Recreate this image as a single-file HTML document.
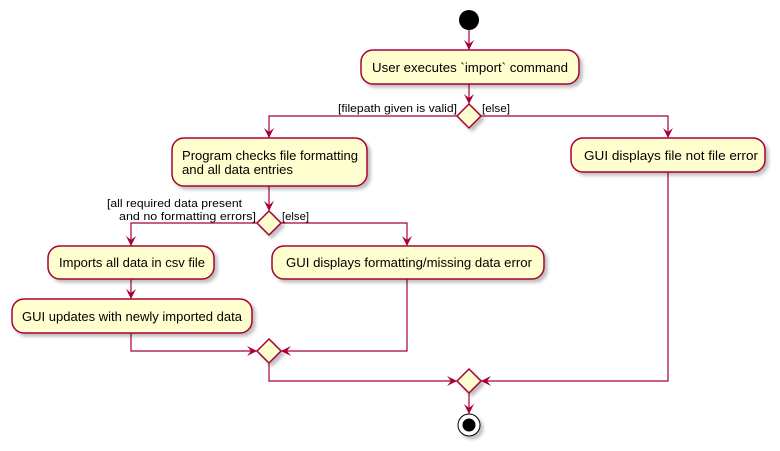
<!DOCTYPE html>
<html><head><meta charset="utf-8"><style>
html,body{margin:0;padding:0;background:#fff}
svg{display:block}
text{font-family:"Liberation Sans",sans-serif;font-size:12.5px;fill:#000}
.l{font-size:11px}
</style></head><body>
<svg width="780" height="451" viewBox="0 0 780 451">
<defs>
<filter id="sh" x="-10%" y="-10%" width="130%" height="150%"><feDropShadow dx="3" dy="3" stdDeviation="1.5" flood-color="#000" flood-opacity="0.25"/></filter>
<marker id="a" viewBox="0 0 10 10" refX="10" refY="5" markerWidth="10" markerHeight="10" orient="auto" markerUnits="userSpaceOnUse"><path d="M0,0 L10,5 L0,10 L4,5 Z" fill="#A80036"/></marker>
</defs>
<g fill="none" stroke="#A80036" stroke-width="1.2">
<path d="M469,30 V50" marker-end="url(#a)"/>
<path d="M469,84 V104" marker-end="url(#a)"/>
<path d="M457,116 H269 V138" marker-end="url(#a)"/>
<path d="M481,116 H668 V138" marker-end="url(#a)"/>
<path d="M269,186 V211" marker-end="url(#a)"/>
<path d="M257,223 H131 V246" marker-end="url(#a)"/>
<path d="M281,223 H407 V246" marker-end="url(#a)"/>
<path d="M131,279 V299" marker-end="url(#a)"/>
<path d="M131,333 V351 H257" marker-end="url(#a)"/>
<path d="M407,279 V351 H281" marker-end="url(#a)"/>
<path d="M269,363 V381 H457" marker-end="url(#a)"/>
<path d="M668,172 V381 H481" marker-end="url(#a)"/>
<path d="M469,393 V414" marker-end="url(#a)"/>
</g>
<circle cx="469" cy="20" r="10" fill="#000"/>
<g fill="#FEFECE" stroke="#A80036" stroke-width="1.5" filter="url(#sh)">
<rect x="361" y="50" width="218" height="34" rx="12"/>
<rect x="172" y="138" width="195" height="48" rx="12"/>
<rect x="571" y="138" width="194" height="34" rx="12"/>
<rect x="48" y="246" width="166" height="33" rx="12"/>
<rect x="272" y="246" width="272" height="33" rx="12"/>
<rect x="12" y="299" width="240" height="34" rx="12"/>
<path d="M469,104 L481,116 L469,128 L457,116 Z"/>
<path d="M269,211 L281,223 L269,235 L257,223 Z"/>
<path d="M269,339 L281,351 L269,363 L257,351 Z"/>
<path d="M469,369 L481,381 L469,393 L457,381 Z"/>
<circle cx="469" cy="425" r="11" fill="#fff" stroke="#000" stroke-width="1"/>
</g>
<circle cx="469" cy="425" r="6.5" fill="#000"/>
<text x="372" y="72" textLength="196" lengthAdjust="spacingAndGlyphs">User executes `import` command</text>
<text x="182" y="160" textLength="176" lengthAdjust="spacingAndGlyphs">Program checks file formatting</text>
<text x="182" y="174" textLength="111" lengthAdjust="spacingAndGlyphs">and all data entries</text>
<text x="584" y="160" textLength="174" lengthAdjust="spacingAndGlyphs">GUI displays file not file error</text>
<text x="59" y="267" textLength="146" lengthAdjust="spacingAndGlyphs">Imports all data in csv file</text>
<text x="286" y="267" textLength="246" lengthAdjust="spacingAndGlyphs">GUI displays formatting/missing data error</text>
<text x="22" y="321" textLength="220" lengthAdjust="spacingAndGlyphs">GUI updates with newly imported data</text>
<text class="l" x="338" y="112" textLength="119" lengthAdjust="spacingAndGlyphs">[filepath given is valid]</text>
<text class="l" x="482" y="112" textLength="28" lengthAdjust="spacingAndGlyphs">[else]</text>
<text class="l" x="107" y="207" textLength="135" lengthAdjust="spacingAndGlyphs">[all required data present</text>
<text class="l" x="119" y="220" textLength="137" lengthAdjust="spacingAndGlyphs">and no formatting errors]</text>
<text class="l" x="282" y="220" textLength="27" lengthAdjust="spacingAndGlyphs">[else]</text>
</svg>
</body></html>
